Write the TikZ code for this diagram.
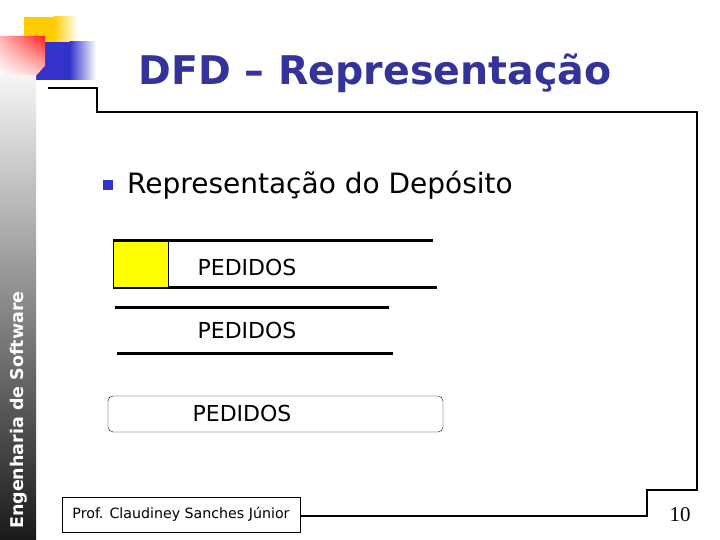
\documentclass[tikz,border=0pt]{standalone}
\usepackage{fontspec}
\setmainfont{DejaVu Sans}
\newfontfamily\numfont{Liberation Serif}
\usetikzlibrary{shadings}
\definecolor{titleblue}{HTML}{333399}
\definecolor{stripblue}{HTML}{3333CC}
\definecolor{storeyellow}{HTML}{FFFF00}
\definecolor{cornerorange}{HTML}{FFCC00}
\definecolor{cornerred}{HTML}{FF2020}

\tikzset{
  storeline/.style={line width=3pt},
  storelabel/.style={font=\fontsize{22}{26}\selectfont},
  frameline/.style={line width=1.5pt}
}

\begin{document}
\begin{tikzpicture}[x=1pt,y=-1pt]
    \useasboundingbox (0,0) rectangle (720,540);
    \fill[white] (0,0) rectangle (720,540);

    % corner squares
    \fill[cornerorange] (24,17) rectangle (54,48);
    \shade[left color=cornerorange, right color=white] (53.5,17) rectangle (78,48);
    \fill[stripblue] (36,42) rectangle (70,80);
    \shade[left color=stripblue, right color=white] (69.5,42) rectangle (96,80);
    \shade[upper left=cornerred!35, upper right=cornerred, lower left=white, lower right=cornerred!20]
        (0,36) -- (45,36) -- (45,66) -- (36,76) -- (0,76) -- cycle;
    \draw[cornerred!60!stripblue, thin] (36,76) -- (45,66);

    % side strip
    \shade[top color=black!4, bottom color=black!90] (0,76) rectangle (36,540);
    \node[rotate=90, text=white, font=\bfseries\fontsize{17.5}{20}\selectfont] (side) at (19,410) {Engenharia de Software};

    \node[text=titleblue, font=\bfseries\fontsize{39.5}{44}\selectfont, anchor=base] (title) at (375,85) {DFD -- Representação};

    \node[fill=stripblue, minimum size=10pt, inner sep=0pt] (bullet) at (108,185) {};
    \node[font=\fontsize{28}{31}\selectfont, anchor=base west, inner sep=0pt] (topic) at (127,194) {Representação do Depósito};

    % depósito 1
    \draw[storeline] (113,240) -- (433,240);
    \draw[storeline] (113,287) -- (437,287);
    \filldraw[fill=storeyellow, line width=1pt] (113.5,241) rectangle (168,287);
    \node[storelabel] (pedidosA) at (247,267) {PEDIDOS};

    % depósito 2
    \draw[storeline] (115,307) -- (389,307);
    \draw[storeline] (117,353) -- (393,353);
    \node[storelabel] (pedidosB) at (247,330) {PEDIDOS};

    % depósito 3
    \draw[rounded corners=5pt] (108,396) rectangle (443,432);
    \node[storelabel] (pedidosC) at (242,413) {PEDIDOS};

    % footer
    \node[draw, minimum width=238pt, minimum height=35pt, font=\fontsize{14.2}{16}\selectfont] (footer) at (181,514.5) {Prof. Claudiney Sanches Júnior};
    \node[font=\numfont\fontsize{21}{24}\selectfont] (pagenum) at (680,515) {10};

    \draw[frameline] (48,88) -- (97,88) -- (97,112) -- (697,112) -- (697,490) -- (647,490) -- (647,516) -- (footer.east |- 0,516);
\end{tikzpicture}
\end{document}
